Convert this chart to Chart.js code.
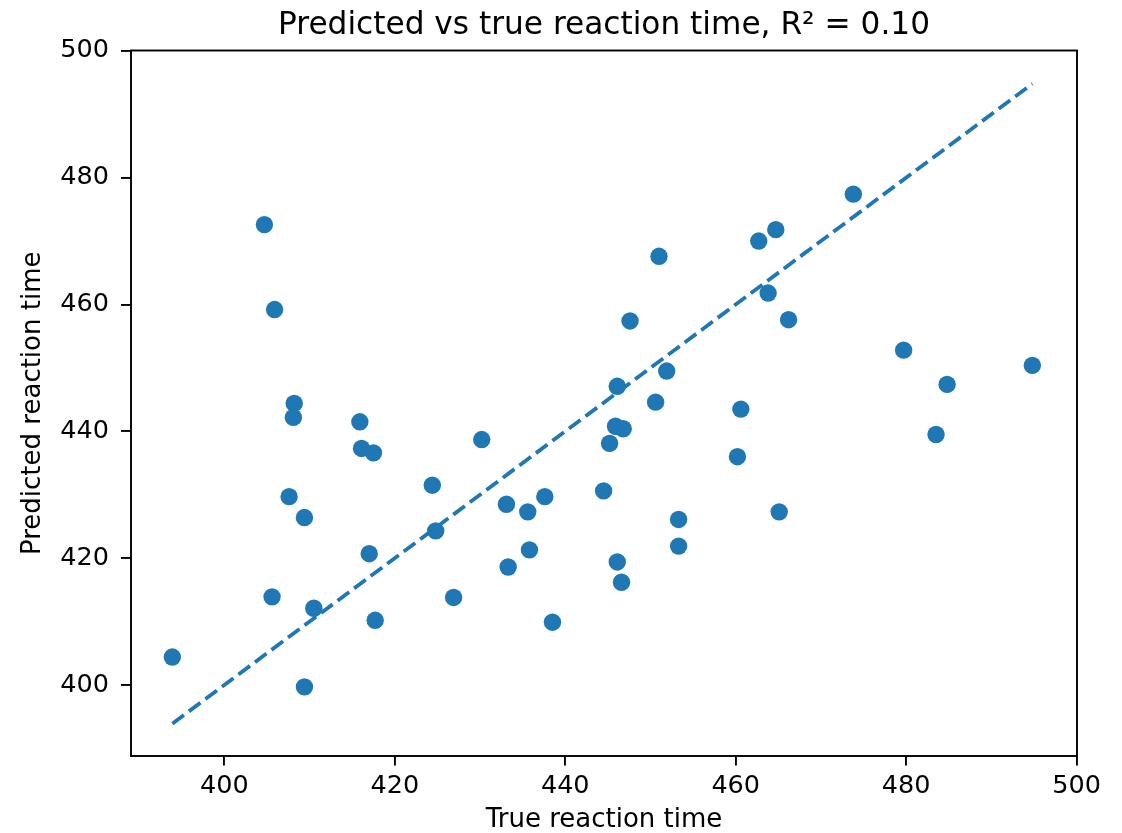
<!DOCTYPE html>
<html lang="en">
<head>
<meta charset="UTF-8">
<title>Predicted vs true reaction time</title>
<script src="https://cdn.jsdelivr.net/npm/chart.js@4"></script>
<style>
  body { margin: 0; background: #fff; }
  canvas { display: block; }
</style>
</head>
<body>
<canvas id="rtChart" width="1122" height="833"></canvas>
<script>
// values (one entry per subject)
const trueTimes = [
  393.9, 404.7, 405.9, 408.2, 408.1, 407.6, 409.4, 405.6, 410.5, 409.4,
  415.9, 416.1, 417.5, 417.0, 417.7, 424.4, 424.8, 426.9, 430.2, 433.1,
  433.3, 435.6, 435.8, 437.6, 438.5, 444.5, 445.2, 445.9, 446.8, 446.1,
  447.6, 446.1, 446.6, 450.6, 451.9, 451.0, 453.3, 453.3, 460.2, 460.6,
  462.7, 463.8, 464.7, 465.1, 466.2, 473.8, 479.7, 483.5, 484.8, 494.8
];
const predictedTimes = [
  404.4, 472.6, 459.2, 444.4, 442.2, 429.7, 426.4, 413.9, 412.1, 399.7,
  441.5, 437.3, 436.6, 420.7, 410.2, 431.5, 424.3, 413.8, 438.7, 428.5,
  418.6, 427.3, 421.3, 429.7, 409.9, 430.6, 438.1, 440.8, 440.4, 447.1,
  457.4, 419.4, 416.2, 444.6, 449.5, 467.6, 426.1, 421.9, 436.0, 443.5,
  470.0, 461.8, 471.8, 427.3, 457.6, 477.4, 452.8, 439.5, 447.4, 450.4
];
// ends of the dashed y = x reference line
const identityEnds = [393.9, 494.8];

const xTicks = [400, 420, 440, 460, 480, 500];
const yTicks = [400, 420, 440, 460, 480, 500];

const chartTitle = 'Predicted vs true reaction time, R\u00b2 = 0.10';
const xLabel = 'True reaction time';
const yLabel = 'Predicted reaction time';

const blue = '#1f77b4';
const font = 'DejaVu Sans';

// matplotlib style box round the plot area
const framePlugin = {
  id: 'frame',
  afterDatasetsDraw(chart) {
    const { ctx, chartArea: a } = chart;
    ctx.save();
    ctx.strokeStyle = '#000';
    ctx.lineWidth = 1.9;
    ctx.strokeRect(a.left, a.top, a.right - a.left, a.bottom - a.top);
    ctx.restore();
  }
};

// title centred over the plot area (the built-in one centres on the canvas)
const axesTitlePlugin = {
  id: 'axesTitle',
  afterDraw(chart) {
    const { ctx, chartArea: a } = chart;
    ctx.save();
    ctx.font = '31.2px "' + font + '"';
    ctx.fillStyle = '#000';
    ctx.textAlign = 'center';
    ctx.textBaseline = 'alphabetic';
    ctx.fillText(chartTitle, (a.left + a.right) / 2, 33.5);
    ctx.restore();
  }
};

const points = trueTimes.map((t, i) => ({ x: t, y: predictedTimes[i] }));
const identity = identityEnds.map(v => ({ x: v, y: v }));

const ctx = document.getElementById('rtChart').getContext('2d');
new Chart(ctx, {
  type: 'scatter',
  data: {
    datasets: [
      {
        type: 'line',
        data: identity,
        borderColor: blue,
        borderWidth: 3.8,
        borderDash: [14.4, 6.2],
        borderCapStyle: 'butt',
        pointRadius: 0,
        fill: false
      },
      {
        data: points,
        backgroundColor: blue,
        borderWidth: 0,
        pointRadius: 8.7,
        pointHoverRadius: 8.7
      }
    ]
  },
  options: {
    responsive: false,
    animation: false,
    devicePixelRatio: 1,
    layout: { padding: { left: 0, right: 45, top: 50.5, bottom: 0 } },
    plugins: {
      legend: { display: false },
      tooltip: { enabled: false },
      title: { display: false }
    },
    scales: {
      x: {
        type: 'linear',
        min: 389.05,
        max: 500.04,
        afterBuildTicks: scale => { scale.ticks = xTicks.map(v => ({ value: v })); },
        afterFit: scale => { scale.height = 77; },
        ticks: {
          color: '#000',
          padding: 6,
          maxRotation: 0,
          font: { family: font, size: 25.5 },
          callback: v => String(v)
        },
        grid: { drawOnChartArea: false, tickLength: 9.5, color: '#000', lineWidth: 1.9 },
        border: { display: false },
        title: {
          display: true,
          text: xLabel,
          color: '#000',
          font: { family: font, size: 26, lineHeight: 1 },
          padding: { top: 0, bottom: 0 }
        }
      },
      y: {
        type: 'linear',
        min: 388.8,
        max: 500.05,
        afterBuildTicks: scale => { scale.ticks = yTicks.map(v => ({ value: v })); },
        afterFit: scale => { scale.width = 131; },
        ticks: {
          color: '#000',
          padding: 12,
          font: { family: font, size: 25.5 },
          callback: v => String(v)
        },
        grid: { drawOnChartArea: false, tickLength: 10, color: '#000', lineWidth: 1.9 },
        border: { display: false },
        title: {
          display: true,
          text: yLabel,
          color: '#000',
          font: { family: font, size: 26, lineHeight: 1 },
          padding: { top: 20.5, bottom: 0 }
        }
      }
    }
  },
  plugins: [framePlugin, axesTitlePlugin]
});
</script>
</body>
</html>
